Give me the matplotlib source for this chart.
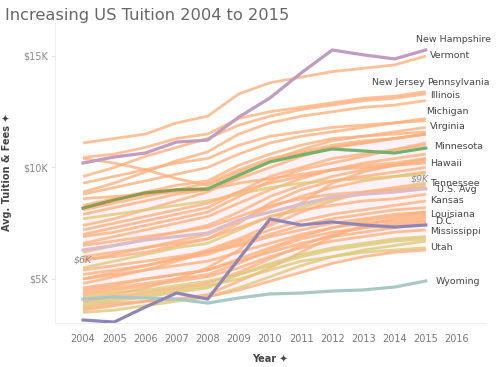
import numpy as np
import matplotlib.pyplot as plt

years = list(range(2004, 2016))

# highlighted series (thousand $)
new_hampshire = [10.2, 10.47, 10.65, 11.14, 11.23, 12.26, 13.12, 14.24, 15.27, 15.05, 14.87, 15.27]
minnesota = [8.18, 8.54, 8.86, 9.0, 9.04, 9.66, 10.25, 10.56, 10.83, 10.74, 10.65, 10.87]
dc = [3.16, 3.07, 3.74, 4.37, 4.1, 5.9, 7.69, 7.42, 7.56, 7.42, 7.33, 7.42]
wyoming = [4.1, 4.19, 4.15, 4.1, 3.92, 4.15, 4.33, 4.37, 4.46, 4.51, 4.64, 4.91]
us_avg = [6.3, 6.5, 6.75, 6.9, 7.06, 7.65, 8.0, 8.35, 8.68, 8.8, 8.9, 9.05]

# remaining states
states = [
    [11.1, 11.3, 11.5, 12.0, 12.3, 13.3, 13.8, 14.05, 14.3, 14.45, 14.6, 15.0],
    [10.45, 10.6, 10.9, 11.3, 11.5, 12.2, 12.5, 12.7, 12.9, 13.1, 13.2, 13.4],
    [9.6, 10.0, 10.5, 10.9, 11.3, 11.9, 12.3, 12.6, 12.8, 13.0, 13.1, 13.3],
    [8.9, 9.3, 9.8, 10.3, 10.7, 11.5, 12.0, 12.3, 12.5, 12.7, 12.8, 13.0],
    [10.4, 10.2, 9.9, 9.5, 9.2, 9.8, 10.3, 10.6, 10.9, 11.1, 11.3, 11.5],
    [8.8, 9.1, 9.4, 9.7, 10.0, 10.6, 11.1, 11.4, 11.6, 11.8, 12.0, 12.2],
    [7.4, 7.7, 8.1, 8.5, 8.9, 9.6, 10.3, 10.8, 11.2, 11.4, 11.6, 11.8],
    [8.3, 8.6, 8.9, 9.2, 9.4, 10.1, 10.6, 11.0, 11.3, 11.4, 11.5, 11.6],
    [7.9, 8.2, 8.5, 8.8, 9.0, 9.5, 10.0, 10.5, 10.9, 11.1, 11.3, 11.5],
    [4.1, 4.3, 4.6, 5.0, 5.5, 6.3, 7.5, 8.4, 9.3, 9.8, 10.1, 10.3],
    [7.0, 7.3, 7.6, 7.9, 8.2, 8.9, 9.6, 10.0, 10.4, 10.6, 10.8, 11.0],
    [6.6, 6.9, 7.2, 7.5, 7.8, 8.4, 9.0, 9.5, 9.9, 10.2, 10.4, 10.6],
    [6.2, 6.5, 6.8, 7.1, 7.4, 8.0, 8.7, 9.2, 9.6, 9.9, 10.1, 10.4],
    [5.0, 5.3, 5.6, 5.9, 6.3, 6.8, 7.4, 8.0, 8.5, 8.9, 9.1, 9.3],
    [5.8, 6.1, 6.4, 6.7, 7.0, 7.6, 8.2, 8.7, 9.1, 9.4, 9.6, 9.8],
    [4.8, 5.1, 5.4, 5.8, 6.2, 6.7, 7.2, 7.6, 7.9, 8.1, 8.3, 8.5],
    [5.5, 5.8, 6.1, 6.4, 6.6, 7.2, 7.8, 8.2, 8.6, 8.8, 9.0, 9.2],
    [6.5, 6.7, 6.9, 7.1, 7.3, 7.8, 8.3, 8.6, 8.8, 8.9, 9.0, 9.1],
    [3.6, 3.8, 4.0, 4.1, 4.3, 4.9, 5.5, 6.2, 6.9, 7.4, 7.7, 7.9],
    [4.3, 4.5, 4.7, 4.9, 5.1, 5.5, 6.0, 6.4, 6.7, 6.9, 7.1, 7.2],
    [3.9, 4.1, 4.3, 4.5, 4.7, 5.0, 5.4, 5.8, 6.0, 6.2, 6.3, 6.4],
    [4.5, 4.7, 5.0, 5.2, 5.4, 5.9, 6.4, 6.9, 7.3, 7.6, 7.8, 8.0],
    [5.2, 5.4, 5.6, 5.9, 6.1, 6.6, 7.0, 7.4, 7.7, 7.9, 8.1, 8.2],
    [4.0, 4.2, 4.4, 4.6, 4.8, 5.3, 5.9, 6.5, 7.0, 7.3, 7.5, 7.7],
    [4.6, 4.8, 5.0, 5.2, 5.4, 5.8, 6.2, 6.6, 6.9, 7.1, 7.3, 7.5],
    [3.8, 4.0, 4.2, 4.4, 4.6, 5.2, 5.7, 6.1, 6.4, 6.6, 6.8, 6.9],
    [5.4, 5.6, 5.8, 6.0, 6.2, 6.5, 6.9, 7.2, 7.5, 7.7, 7.9, 8.0],
    [7.7, 7.9, 8.1, 8.3, 8.5, 8.8, 9.1, 9.3, 9.4, 9.5, 9.6, 9.7],
    [8.6, 8.7, 8.8, 8.9, 9.0, 9.3, 9.5, 9.7, 9.9, 10.0, 10.1, 10.2],
    [3.5, 3.6, 3.8, 4.0, 4.2, 4.6, 5.1, 5.6, 6.0, 6.3, 6.5, 6.7],
    [4.4, 4.6, 4.8, 5.0, 5.2, 5.7, 6.3, 6.8, 7.1, 7.3, 7.4, 7.6],
    [6.0, 6.2, 6.4, 6.6, 6.8, 7.3, 7.8, 8.1, 8.3, 8.5, 8.6, 8.8],
    [5.0, 5.2, 5.4, 5.6, 5.8, 6.2, 6.6, 7.0, 7.3, 7.5, 7.6, 7.8],
    [7.2, 7.5, 7.8, 8.1, 8.4, 8.9, 9.3, 9.6, 9.9, 10.1, 10.2, 10.4],
    [4.2, 4.4, 4.5, 4.7, 4.9, 5.2, 5.6, 6.0, 6.3, 6.5, 6.7, 6.8],
    [5.9, 6.0, 6.2, 6.5, 6.8, 7.5, 8.4, 9.0, 9.4, 9.6, 9.8, 10.0],
    [6.9, 7.1, 7.4, 7.7, 8.0, 8.7, 9.4, 9.9, 10.2, 10.5, 10.8, 11.1],
    [3.7, 3.9, 4.0, 4.1, 4.2, 4.5, 4.9, 5.3, 5.7, 6.0, 6.2, 6.3],
    [9.3, 9.6, 9.9, 10.2, 10.4, 11.0, 11.4, 11.6, 11.8, 11.9, 12.0, 12.1],
    [8.1, 8.4, 8.7, 9.0, 9.3, 9.9, 10.4, 10.7, 11.0, 11.2, 11.3, 11.5],
]
olive_idx = [16, 20, 25, 27, 29, 34]

# (label, x in years, y in $K)
labels = [
    ('New Hampshire', 2014.68, 15.72, 'left'),
    ('Vermont', 2015.13, 15.04, 'left'),
    ('New Jersey', 2014.97, 13.79, 'right'),
    ('Pennsylvania', 2015.04, 13.83, 'left'),
    ('Illinois', 2015.13, 13.21, 'left'),
    ('Michigan', 2015.0, 12.49, 'left'),
    ('Virginia', 2015.13, 11.82, 'left'),
    ('Minnesota', 2015.26, 10.92, 'left'),
    ('Hawaii', 2015.13, 10.2, 'left'),
    ('Tennessee', 2015.13, 9.3, 'left'),
    ('U.S. Avg', 2015.36, 9.02, 'left'),
    ('Kansas', 2015.13, 8.54, 'left'),
    ('Louisiana', 2015.13, 7.87, 'left'),
    ('D.C.', 2015.29, 7.56, 'left'),
    ('Mississippi', 2015.13, 7.15, 'left'),
    ('Utah', 2015.13, 6.39, 'left'),
    ('Wyoming', 2015.33, 4.91, 'left'),
]

plt.rcParams['font.family'] = ['DejaVu Sans']
fig = plt.figure(figsize=(4.98, 3.67), dpi=100)
ax = fig.add_axes([0.1104, 0.1199, 0.8635, 0.8202])

# faint pink tint behind the dense part of the bundle
ax.fill_between(years, np.min(states, axis=0), np.percentile(states, 80, axis=0),
                color='#fdf3f6', lw=0, zorder=0)

for i, s in enumerate(states):
    c = '#dccb78' if i in olive_idx else '#fdb27e'
    ax.plot(years, s, color=c, lw=2.0, alpha=0.8, solid_capstyle='butt', zorder=1)

ax.plot(years, us_avg, color='#dcbcc9', lw=2.3, zorder=2)
ax.plot(years, wyoming, color='#a9c8c8', lw=2.3, zorder=2)
ax.plot(years[:5], minnesota[:5], color='#8e9b4f', lw=2.3, zorder=3)
ax.plot(years[4:], minnesota[4:], color='#72b26b', lw=2.3, zorder=3)
ax.plot(years, dc, color='#8f86b8', lw=2.3, zorder=3)
ax.plot(years, new_hampshire, color='#bf9cc0', lw=2.3, zorder=3)

for name, x, y, ha in labels:
    ax.text(x, y, name, ha=ha, va='center', fontsize=6.8, color='#444444', zorder=5)
ax.text(2014.52, 9.48, '$9K', ha='left', va='center', fontsize=6.8,
        style='italic', color='#888888', zorder=5)
ax.text(2003.71, 5.85, '$6K', ha='left', va='center', fontsize=6.8,
        style='italic', color='#888888', zorder=5)

ax.set_xlim(2003.1, 2016.9)
ax.set_ylim(3.027, 16.525)
ax.set_xticks(range(2004, 2017))
ax.set_xticklabels([str(y) for y in range(2004, 2017)])
ax.set_yticks([5, 10, 15])
ax.set_yticklabels(['$5K', '$10K', '$15K'])
ax.tick_params(axis='x', length=0, labelsize=7, colors='#777777', pad=8)
ax.tick_params(axis='y', length=3, width=0.6, color='#dddddd',
               labelsize=7, labelcolor='#888888', pad=2)
for sp in ['top', 'right']:
    ax.spines[sp].set_visible(False)
for sp in ['left', 'bottom']:
    ax.spines[sp].set_color('#eeeeee')
    ax.spines[sp].set_linewidth(0.8)

ax.set_xlabel('Year \u2726', fontsize=7, color='#444444', fontweight='bold', labelpad=7)
ax.set_ylabel('Avg. Tuition & Fees \u2726', fontsize=7, color='#444444',
              fontweight='bold', labelpad=8)

fig.text(0.01, 0.958, 'Increasing US Tuition 2004 to 2015', fontsize=11.7,
         color='#666666', ha='left', va='center')

fig.savefig('out.png', dpi=100)
